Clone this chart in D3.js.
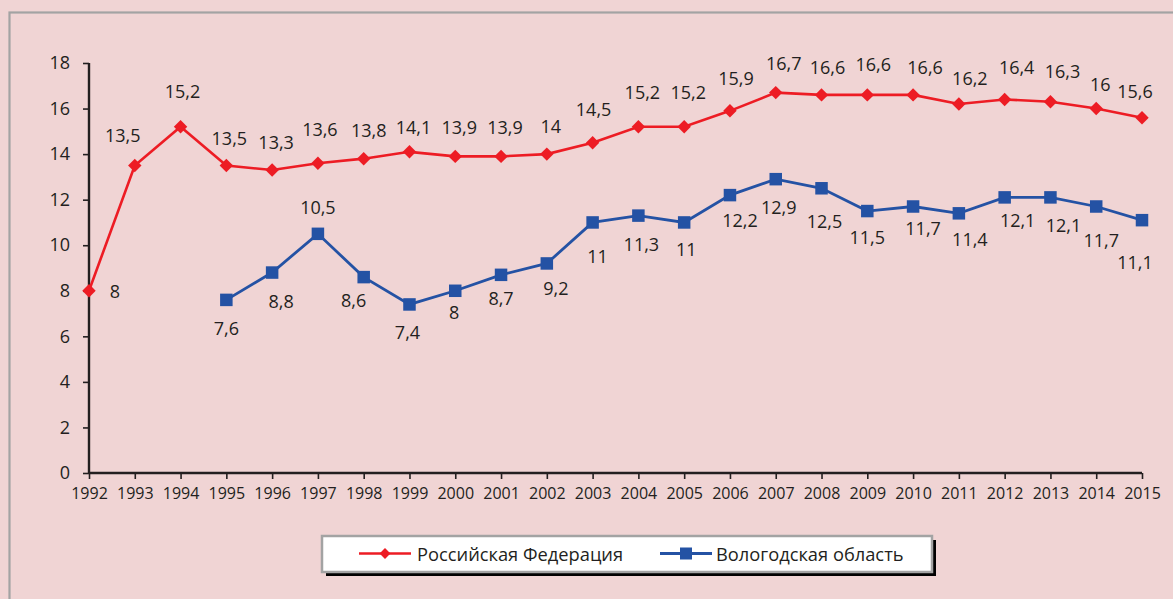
<!DOCTYPE html>
<html><head><meta charset="utf-8">
<script src="https://cdn.jsdelivr.net/npm/d3@7/dist/d3.min.js"></script>
<style>
html,body{margin:0;padding:0;background:#f0d4d4;overflow:hidden;}
svg{display:block;font-family:"Open Sans",sans-serif;}
</style></head>
<body>
<svg id="chart" width="1173" height="599"></svg>
<script>
// ---- data ----
const years = d3.range(1992, 2016);
const rfYears = years.slice();
const rfValues = [8, 13.5, 15.2, 13.5, 13.3, 13.6, 13.8, 14.1, 13.9, 13.9, 14, 14.5, 15.2, 15.2, 15.9, 16.7, 16.6, 16.6, 16.6, 16.2, 16.4, 16.3, 16, 15.6];
const voYears = d3.range(1995, 2016);
const voValues = [7.6, 8.8, 10.5, 8.6, 7.4, 8, 8.7, 9.2, 11, 11.3, 11, 12.2, 12.9, 12.5, 11.5, 11.7, 11.4, 12.1, 12.1, 11.7, 11.1];
const yTicks = [0, 2, 4, 6, 8, 10, 12, 14, 16, 18];
const seriesNames = ["Российская Федерация", "Вологодская область"];

// label nudges (pixels, relative to point)
const rfLabelDx = [26, -12, 2, 3, 4, 2, 5, 4, 4, 4, 4, 1, 4, 4, 6, 8, 6, 6, 12, 11, 12, 12, 4, -7];
const rfLabelDy = [0, -31, -36, -28, -28, -34, -29, -25, -29, -29, -28, -34, -35, -35, -33, -30, -28, -31, -28, -26, -32, -31, -25, -27];
const voLabelDx = [0, 9, 0, -10, -2, -1, 0, 9, 5, 3, 2, 10, 3, 3, 0, 10, 11, 13, 13, 5, -7];
const voLabelDy = [28, 28, -27, 23, 28, 21, 23, 25, 34, 28, 27, 25, 28, 33, 26, 21, 26, 23, 28, 33, 42];

const RED = "#ed1c24", BLUE = "#2452a4", TXT = "#231f20";
const fmt = v => String(v).replace(".", ",");

const svg = d3.select("#chart");

// outer frame
svg.append("rect").attr("x", 9.5).attr("y", 12.5).attr("width", 1200).attr("height", 700)
  .attr("fill", "none").attr("stroke", "#a3a3a3").attr("stroke-width", 2.2);

const x = d3.scaleLinear().domain([1992, 2015]).range([89, 1142]);
const y = d3.scaleLinear().domain([0, 18]).range([473, 63]);

// y axis
const yAxis = svg.append("g").attr("transform", "translate(89,0)")
  .call(d3.axisLeft(y).tickValues(yTicks).tickSize(6).tickPadding(13).tickFormat(d => d));
yAxis.select(".domain").attr("stroke", TXT).attr("stroke-width", 2.4).attr("d", "M0," + y(18) + "V" + y(0));
yAxis.selectAll(".tick line").attr("stroke", TXT).attr("stroke-width", 1.6);
yAxis.selectAll(".tick text").attr("fill", TXT).style("font-size", "18px").style("font-family", "'Open Sans',sans-serif");

// x axis
const xAxis = svg.append("g").attr("transform", "translate(0," + y(0) + ")")
  .call(d3.axisBottom(x).tickValues(years).tickSize(6).tickPadding(9).tickFormat(d => d));
xAxis.select(".domain").attr("stroke", TXT).attr("stroke-width", 2.4).attr("d", "M" + x(1992) + ",0H" + x(2015));
xAxis.selectAll(".tick line").attr("stroke", TXT).attr("stroke-width", 1.6);
xAxis.selectAll(".tick text").attr("fill", TXT).style("font-size", "16px").style("font-family", "'Open Sans',sans-serif");

const line = d3.line().x(d => x(d[0])).y(d => y(d[1]));
const rfData = rfYears.map((yr, i) => [yr, rfValues[i]]);
const voData = voYears.map((yr, i) => [yr, voValues[i]]);

svg.append("path").datum(rfData).attr("d", line).attr("fill", "none").attr("stroke", RED).attr("stroke-width", 2.6);
svg.append("path").datum(voData).attr("d", line).attr("fill", "none").attr("stroke", BLUE).attr("stroke-width", 2.8);

const diamond = d3.symbol().type(d3.symbolDiamond2).size(115);
svg.append("g").selectAll("path").data(rfData).join("path")
  .attr("d", diamond).attr("transform", d => `translate(${x(d[0])},${y(d[1])})`)
  .attr("fill", RED);
const sq = 12.5;
svg.append("g").selectAll("rect").data(voData).join("rect")
  .attr("x", d => x(d[0]) - sq / 2).attr("y", d => y(d[1]) - sq / 2)
  .attr("width", sq).attr("height", sq).attr("fill", BLUE);

// data labels
svg.append("g").selectAll("text").data(rfData).join("text")
  .attr("x", (d, i) => x(d[0]) + rfLabelDx[i]).attr("y", (d, i) => y(d[1]) + rfLabelDy[i])
  .attr("text-anchor", "middle").attr("dominant-baseline", "central")
  .attr("fill", TXT).style("font-size", "18px").text(d => fmt(d[1]));
svg.append("g").selectAll("text").data(voData).join("text")
  .attr("x", (d, i) => x(d[0]) + voLabelDx[i]).attr("y", (d, i) => y(d[1]) + voLabelDy[i])
  .attr("text-anchor", "middle").attr("dominant-baseline", "central")
  .attr("fill", TXT).style("font-size", "18px").text(d => fmt(d[1]));

// legend
const lg = svg.append("g");
lg.append("rect").attr("x", 326).attr("y", 540).attr("width", 610).attr("height", 36).attr("fill", "#000");
lg.append("rect").attr("x", 322).attr("y", 536).attr("width", 610).attr("height", 36)
  .attr("fill", "#fff").attr("stroke", "#a3a3a3").attr("stroke-width", 2.5);
const ly = 553.5;
lg.append("line").attr("x1", 359).attr("x2", 411).attr("y1", ly).attr("y2", ly).attr("stroke", RED).attr("stroke-width", 2.6);
lg.append("path").attr("d", d3.symbol().type(d3.symbolDiamond2).size(75)).attr("transform", `translate(385,${ly})`).attr("fill", RED);
lg.append("text").attr("x", 417).attr("y", ly).attr("dominant-baseline", "central").attr("fill", TXT)
  .style("font-size", "18.3px").text(seriesNames[0]);
lg.append("line").attr("x1", 660).attr("x2", 712).attr("y1", ly).attr("y2", ly).attr("stroke", BLUE).attr("stroke-width", 2.8);
lg.append("rect").attr("x", 680).attr("y", ly - 6).attr("width", 12).attr("height", 12).attr("fill", BLUE);
lg.append("text").attr("x", 716).attr("y", ly).attr("dominant-baseline", "central").attr("fill", TXT)
  .style("font-size", "18.3px").text(seriesNames[1]);
</script>
</body></html>
